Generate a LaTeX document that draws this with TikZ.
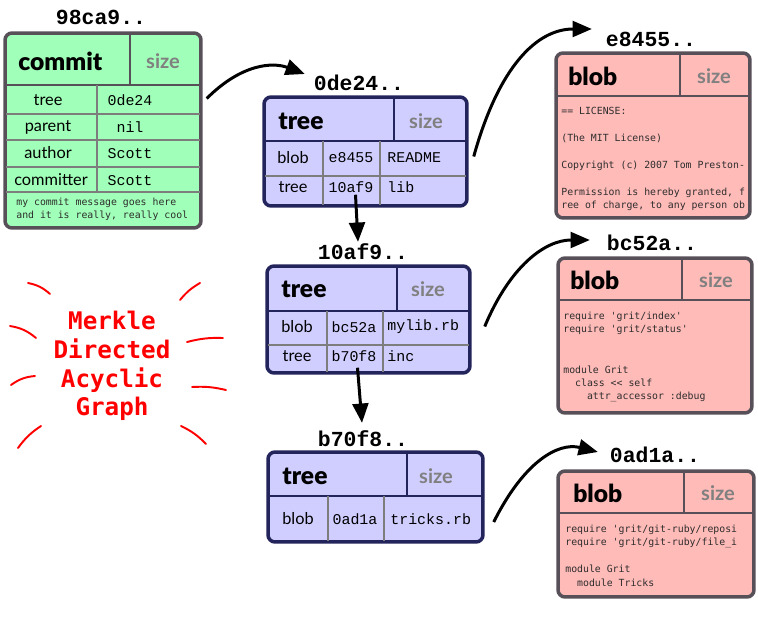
\documentclass[tikz,border=0pt]{standalone}
\usepackage{fontspec}
\usetikzlibrary{arrows.meta}
\newfontfamily\hashfont{Liberation Mono}
\newfontfamily\headfont{Lato}
\newfontfamily\kindfont{Lato Black}
\newfontfamily\codefont{DejaVu Sans Mono}[Ligatures=TeXOff]
\definecolor{commitfill}{RGB}{160,255,184}
\definecolor{treefill}{RGB}{208,206,255}
\definecolor{blobfill}{RGB}{255,187,184}
\definecolor{boxline}{RGB}{88,80,88}
\definecolor{treeline}{RGB}{36,36,92}
\definecolor{cellline}{RGB}{125,125,125}
\definecolor{sizegray}{RGB}{128,128,128}
\definecolor{codegray}{RGB}{45,45,45}
\begin{document}
\begin{tikzpicture}[x=0.02cm,y=-0.02cm,
    box/.style={draw,rectangle,line width=2pt,rounded corners=4pt,inner sep=0pt},
    commitbox/.style={box,draw=boxline,fill=commitfill},
    treebox/.style={box,draw=treeline,fill=treefill},
    blobbox/.style={box,draw=boxline,fill=blobfill},
    hash/.style={inner sep=1pt,font=\hashfont\bfseries\fontsize{12.2}{14}\selectfont},
    kind/.style={anchor=west,inner sep=0pt,font=\kindfont\fontsize{14}{16}\selectfont},
    sizetag/.style={inner sep=0pt,text=sizegray,font=\headfont\bfseries\fontsize{11.4}{13}\selectfont},
    field/.style={inner sep=0pt,font=\headfont\fontsize{9.3}{11}\selectfont},
    val/.style={inner sep=0pt,font=\hashfont\fontsize{8.5}{10}\selectfont},
    code/.style={anchor=north west,align=left,inner sep=0pt,text=codegray,
      font=\codefont\fontsize{5.6}{7.65}\selectfont},
    hdline/.style={line width=1.7pt},
    rowline/.style={cellline,line width=1pt},
    colline/.style={cellline,line width=0.6pt},
    link/.style={-{Triangle[length=11pt,width=9pt]},line width=1.7pt},
    ray/.style={red,line width=1.1pt,line cap=round}]
  \useasboundingbox (0,0) rectangle (758,618);

  \node[commitbox,minimum width=3.92cm,minimum height=3.9cm] (commit) at (103,130.5) {};
  \draw[boxline,hdline] (5,85) -- (201,85) (130,33) -- (130,85);
  \draw[rowline] (6,114) -- (200,114) (6,140) -- (200,140) (6,167) -- (200,167) (6,192) -- (200,192);
  \draw[colline] (97,85) -- (97,192);
  \node[hash] (l98ca9) at (101,17) {98ca9..};
  \node[kind] (cmkind) at (18,61) {commit};
  \node[sizetag] (cmsize) at (163,61) {size};
  \node[field] (cmtreef) at (48,100) {tree};
  \node[field] (cmparentf) at (48,127) {parent};
  \node[field] (cmauthorf) at (48,153) {author};
  \node[field] (cmcommitterf) at (51,180) {committer};
  \node[val] (cmtreev) at (130,100) {0de24};
  \node[val] (cmparentv) at (130,127) {nil};
  \node[val] (cmauthorv) at (130,154) {Scott};
  \node[val] (cmcommitterv) at (130,181) {Scott};
  \node[code] (cmmsg) at (16,197.5) {my commit message goes here\\and it is really, really cool};

  \node[treebox,minimum width=4.06cm,minimum height=2.18cm] (tree1) at (365.5,151.5) {};
  \draw[treeline,hdline] (264,141) -- (467,141) (394,97) -- (394,141);
  \draw[rowline] (265,176) -- (466,176);
  \draw[colline] (323,141) -- (323,205) (380,141) -- (380,205);
  \node[hash] (l0de24) at (359,83) {0de24..};
  \node[kind] (t1kind) at (278,121) {tree};
  \node[sizetag] (t1size) at (426,121) {size};
  \node[field] (t1blob) at (293,158) {blob};
  \node[val] (t1e8455) at (351,158) {e8455};
  \node[val,anchor=west] (t1readme) at (387,158) {README};
  \node[field] (t1tree) at (293,187) {tree};
  \node[val] (t110af9) at (351,187) {10af9};
  \node[val,anchor=west] (t1lib) at (387,187) {lib};

  \node[treebox,minimum width=4.06cm,minimum height=2.14cm] (tree2) at (368.5,319.5) {};
  \draw[treeline,hdline] (267,311) -- (470,311) (397,266) -- (397,311);
  \draw[rowline] (268,345) -- (469,345);
  \draw[colline] (327,311) -- (327,372) (383,311) -- (383,372);
  \node[hash] (l10af9) at (363,252) {10af9..};
  \node[kind] (t2kind) at (281,289) {tree};
  \node[sizetag] (t2size) at (428,289) {size};
  \node[field] (t2blob) at (297,327) {blob};
  \node[val] (t2bc52a) at (354,327) {bc52a};
  \node[val,anchor=west] (t2mylib) at (387,327) {mylib.rb};
  \node[field] (t2tree) at (297,356) {tree};
  \node[val] (t2b70f8) at (354,356) {b70f8};
  \node[val,anchor=west] (t2inc) at (387,356) {inc};

  \node[treebox,minimum width=4.3cm,minimum height=1.8cm] (tree3) at (375.5,497) {};
  \draw[treeline,hdline] (268,496) -- (483,496) (407,452) -- (407,496);
  \draw[colline] (328,496) -- (328,541) (384,496) -- (384,541);
  \node[hash] (lb70f8) at (363,439) {b70f8..};
  \node[kind] (t3kind) at (282,476) {tree};
  \node[sizetag] (t3size) at (436,476) {size};
  \node[field] (t3blob) at (298,519) {blob};
  \node[val] (t30ad1a) at (355,519) {0ad1a};
  \node[val,anchor=west] (t3tricks) at (390,519) {tricks.rb};

  \node[blobbox,minimum width=3.88cm,minimum height=3.3cm] (blob1) at (653,135.5) {};
  \draw[boxline,hdline] (556,96) -- (750,96) (680,53) -- (680,96);
  \node[hash] (le8455) at (651,39) {e8455..};
  \node[kind] (b1kind) at (568,76) {blob};
  \node[sizetag] (b1size) at (714,76) {size};
  \node[code] (b1text) at (561,107) {== LICENSE:\\[7.65pt](The MIT License)\\[7.65pt]Copyright (c) 2007 Tom Preston-\\[7.65pt]Permission is hereby granted, f\\ree of charge, to any person ob};

  \node[blobbox,minimum width=3.88cm,minimum height=3.1cm] (blob2) at (655,335.5) {};
  \draw[boxline,hdline] (558,300) -- (752,300) (682,258) -- (682,300);
  \node[hash] (lbc52a) at (652,243) {bc52a..};
  \node[kind] (b2kind) at (570,280) {blob};
  \node[sizetag] (b2size) at (716,280) {size};
  \node[code] (b2text) at (563,311.5) {require 'grit/index'\\require 'grit/status'\\[15.3pt]module Grit\\\phantom{xx}class << self\\\phantom{xxxx}attr\_accessor :debug};

  \node[blobbox,minimum width=3.92cm,minimum height=2.52cm] (blob3) at (656,534) {};
  \draw[boxline,hdline] (558,513) -- (754,513) (684,471) -- (684,513);
  \node[hash] (l0ad1a) at (655,455) {0ad1a..};
  \node[kind] (b3kind) at (573,493) {blob};
  \node[sizetag] (b3size) at (718,493) {size};
  \node[code] (b3text) at (565,524.5) {require 'grit/git-ruby/reposi\\require 'grit/git-ruby/file\_i\\[7.65pt]module Grit\\\phantom{xx}module Tricks};

  \draw[link] ([shift={(4,-32)}]commit.east) .. controls +(35,-35) and +(-32,-12) .. ([shift={(-7,-9)}]l0de24.west);
  \draw[link] ([shift={(5,5)}]tree1.east) .. controls +(25,-90) and +(-55,0) .. ([shift={(-12,-10)}]le8455.west);
  \draw[link] ([shift={(-10,-13)}]tree1.south) -- ([shift={(-5,0)}]l10af9.north);
  \draw[link] ([shift={(13,7)}]tree2.east) .. controls +(25,-60) and +(-45,0) .. ([shift={(-15,-3)}]lbc52a.west);
  \draw[link] ([shift={(-11,-7)}]tree2.south) -- ([shift={(-1,-6)}]lb70f8.north);
  \draw[link] ([shift={(9,25)}]tree3.east) .. controls +(30,-60) and +(-40,-10) .. ([shift={(-10,-3)}]l0ad1a.west);

  \node[text=red,align=center,font=\codefont\bfseries\fontsize{13.8}{16.4}\selectfont] (merkle) at (112,366) {Merkle\\Directed\\Acyclic\\Graph};
  \draw[ray] (28,283) to[bend left=15] (50,294);
  \draw[ray] (180,300) to[bend left=10] (200,283);
  \draw[ray] (10,326) to[bend left=15] (36,338);
  \draw[ray] (187,342) to[bend left=8] (223,338);
  \draw[ray] (11,385) to[bend left=15] (35,376);
  \draw[ray] (192,387) to[bend left=8] (226,390);
  \draw[ray] (18,448) to[bend left=10] (41,426);
  \draw[ray] (181,426) to[bend left=10] (206,444);
\end{tikzpicture}
\end{document}
